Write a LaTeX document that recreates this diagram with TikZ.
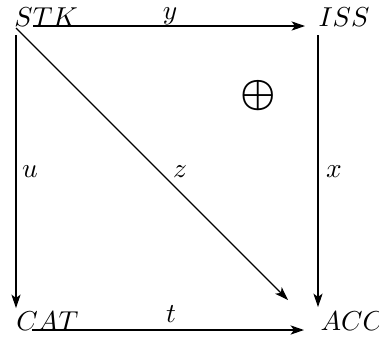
\documentclass[tikz,border=0pt]{standalone}
\usepackage{bm}
\usetikzlibrary{arrows.meta}
\begin{document}
\begin{tikzpicture}[x=0.4pt,y=-0.4pt,
  font=\fontsize{10.8}{13}\selectfont,
  obj/.style={inner sep=0pt, anchor=base west},
  tag/.style={inner sep=0pt},
  arr/.style={line width=0.45pt, -{Stealth[length=5.4pt,width=3.7pt,inset=1.4pt]}}]
\useasboundingbox (0,0) rectangle (379,336);
% objects
\node[obj] (stk) at (14,26) {$STK$};
\node[obj] (iss) at (318,26) {$ISS$};
\node[obj] (cat) at (16,330) {$CAT$};
\node[obj] (acc) at (320,330) {$ACC$};
% connector end points
\coordinate (yS) at (33,26);   \coordinate (yE) at (305,26);
\coordinate (uS) at (16,35);   \coordinate (uE) at (16,308);
\coordinate (zS) at (16,28);   \coordinate (zE) at (288,300);
\coordinate (xS) at (318,35);  \coordinate (xE) at (318,307);
\coordinate (tS) at (32,330);  \coordinate (tE) at (304,330);
% connectors
\draw[arr] (yS) -- (yE);
\draw[arr] (uS) -- (uE);
\draw[arr] (zS) -- (zE);
\draw[arr] (xS) -- (xE);
\draw[arr] (tS) -- (tE);
% labels
\node[tag] (ly) at (170,16) {$y$};
\node[tag] (lu) at (30,172) {$u$};
\node[tag] (lz) at (180,172) {$z$};
\node[tag] (lx) at (334,172) {$x$};
\node[tag] (lt) at (171,314) {$t$};
\node[tag, scale=1.45] (op) at (258,96) {$\bm{\oplus}$};
\end{tikzpicture}
\end{document}
